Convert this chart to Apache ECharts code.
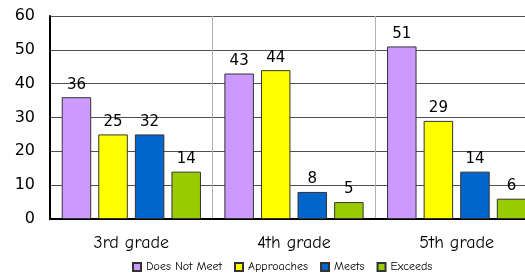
<!DOCTYPE html>
<html><head><meta charset="utf-8">
<script src="https://cdn.jsdelivr.net/npm/echarts@6/dist/echarts.min.js"></script>
<style>html,body{margin:0;padding:0;background:#fff}#c{width:525px;height:275px}</style>
</head><body><div id="c"></div>
<script>
const categories = ['3rd grade', '4th grade', '5th grade'];
const seriesNames = ['Does Not Meet', 'Approaches', 'Meets', 'Exceeds'];
const doesNotMeet = [36, 43, 51];
const approaches = [25, 44, 29];
const meets = [25, 8, 14];
const meetsLabels = [32, 8, 14];
const exceeds = [14, 5, 6];
const yTicks = [0, 10, 20, 30, 40, 50, 60];

const colors = ['#CC99FF', '#FFFF00', '#0066CC', '#99CC00'];
const values = [doesNotMeet, approaches, meets, exceeds];
const labels = [doesNotMeet, approaches, meetsLabels, exceeds];
const comic = '"Comic Sans MS", "Comic Neue", "DejaVu Sans", sans-serif';

const chart = echarts.init(document.getElementById('c'), null, {renderer: 'canvas'});
chart.setOption({
  animation: false,
  backgroundColor: '#fff',
  legend: {
    left: 132, top: 261, padding: 0, itemWidth: 8, itemHeight: 8, itemGap: 12,
    icon: 'rect',
    textStyle: {fontFamily: comic, fontSize: 12, color: '#000'},
    data: seriesNames
  },
  grid: {left: 50, top: 16, right: -13, bottom: 56, containLabel: false, outerBoundsMode: 'none'},
  xAxis: {
    type: 'category', data: categories,
    axisLine: {show: true, lineStyle: {color: '#000', width: 2}},
    axisTick: {show: false},
    axisLabel: {fontFamily: comic, fontSize: 18, color: '#000', margin: 15},
    splitLine: {show: true, lineStyle: {color: '#b0b0b0', width: 1}}
  },
  yAxis: {
    type: 'value', min: yTicks[0], max: yTicks[yTicks.length - 1], interval: 10,
    axisLine: {show: true, lineStyle: {color: '#000', width: 2}},
    axisTick: {show: false},
    axisLabel: {fontFamily: '"DejaVu Sans", sans-serif', fontSize: 16, color: '#000', margin: 15},
    splitLine: {show: true, lineStyle: {color: '#505050', width: 1}}
  },
  series: seriesNames.map((n, i) => ({
    name: n, type: 'bar', data: values[i],
    barWidth: 29.5, barGap: '24%',
    itemStyle: {color: colors[i], borderColor: '#333', borderWidth: 1},
    label: {
      show: true, position: 'top', distance: 5,
      fontFamily: '"DejaVu Sans", sans-serif', fontSize: 15, color: '#000',
      formatter: p => String(labels[i][p.dataIndex])
    }
  }))
});
</script></body></html>
